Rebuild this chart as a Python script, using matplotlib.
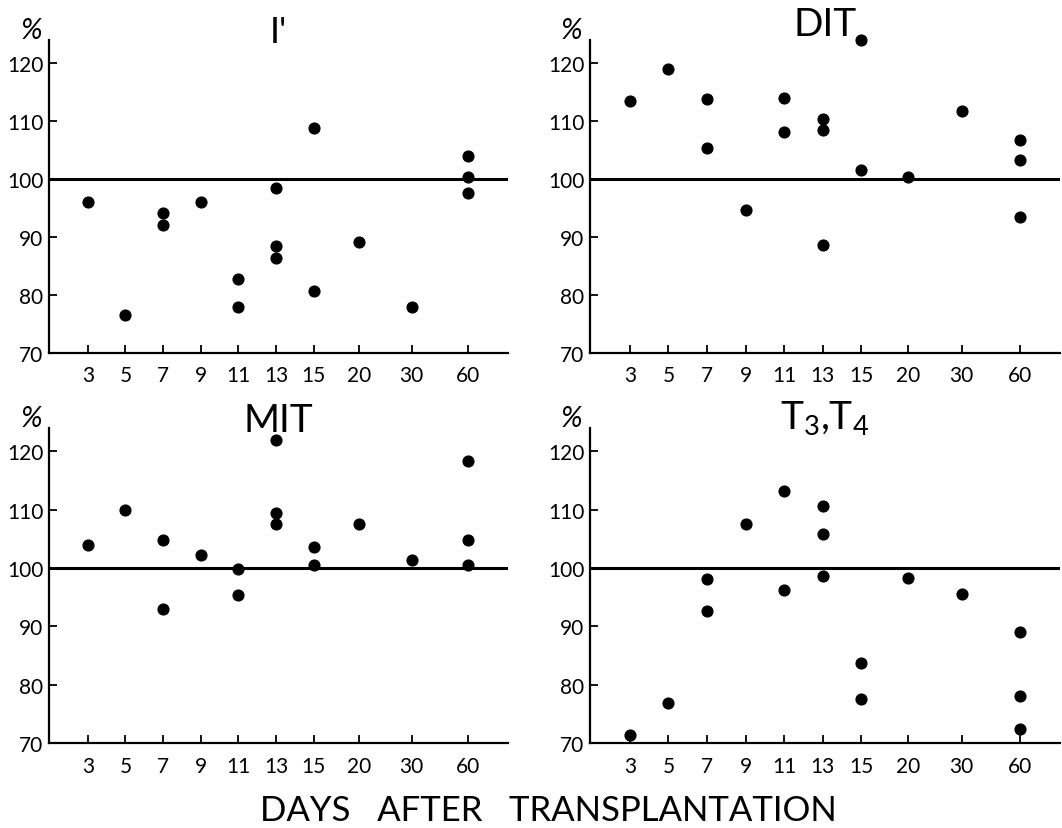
import matplotlib.pyplot as plt

plt.rcParams['font.family'] = ['Lato', 'DejaVu Sans']
plt.rcParams['mathtext.default'] = 'regular'

# x categories (days after transplantation) and their spacing on the axis
days = ["3", "5", "7", "9", "11", "13", "15", "20", "30", "60"]
day_pos = [0, 1, 2, 3, 4, 5, 6, 7.2, 8.6, 10.1]

# I'
i_days = ["3", "5", "7", "7", "9", "11", "11", "13", "13", "13", "15", "15", "20", "30", "60", "60", "60"]
i_vals = [96.0, 76.5, 94.2, 92.0, 96.1, 82.8, 78.0, 98.4, 88.4, 86.4, 108.7, 80.7, 89.2, 78.0, 103.9, 100.3, 97.5]

# DIT
dit_days = ["3", "5", "7", "7", "9", "11", "11", "13", "13", "13", "15", "15", "20", "30", "60", "60", "60"]
dit_vals = [113.4, 118.9, 113.8, 105.4, 94.6, 114.0, 108.1, 110.4, 108.4, 88.6, 123.9, 101.6, 100.3, 111.7, 106.7, 103.3, 93.4]

# MIT
mit_days = ["3", "5", "7", "7", "9", "11", "11", "13", "13", "13", "15", "15", "20", "30", "60", "60", "60"]
mit_vals = [104.0, 109.9, 104.8, 92.9, 102.3, 99.8, 95.4, 121.9, 109.5, 107.5, 103.6, 100.5, 107.5, 101.3, 118.4, 104.8, 100.6]

# T3,T4
t_days = ["3", "5", "7", "7", "9", "11", "11", "13", "13", "13", "15", "15", "20", "30", "60", "60", "60"]
t_vals = [71.3, 76.8, 98.1, 92.6, 107.6, 113.2, 96.2, 110.7, 105.9, 98.7, 83.8, 77.6, 98.3, 95.6, 89.0, 78.0, 72.4]

yticks = [70, 80, 90, 100, 110, 120]

pos = dict(zip(days, day_pos))

fig = plt.figure(figsize=(10.62, 8.29), dpi=100)

panels = [
    ("I'", i_days, i_vals, [0.0461, 0.573, 0.432, 0.378], 0.994, 26),
    ("DIT", dit_days, dit_vals, [0.5556, 0.573, 0.4426, 0.378], 1.016, 28),
    ("MIT", mit_days, mit_vals, [0.0461, 0.1025, 0.432, 0.380], 0.99, 28),
    ("T$_3$,T$_4$", t_days, t_vals, [0.5556, 0.1025, 0.4426, 0.380], 1.0, 28),
]

for title, dd, vv, rect, ty, fs in panels:
    ax = fig.add_axes(rect)
    ax.axhline(100, color='black', lw=2.2, zorder=1)
    ax.scatter([pos[d] for d in dd], vv, s=60, color='black', zorder=3, clip_on=False)
    ax.set_xlim(-1.03, 11.15)
    ax.set_ylim(70, 124)
    ax.set_xticks(day_pos)
    ax.set_xticklabels(days)
    ax.set_yticks(yticks)
    ax.tick_params(direction='in', length=6, width=1.3, labelsize=15, colors='black')
    ax.tick_params(axis='x', pad=9)
    ax.tick_params(axis='y', pad=4)
    for s in ['top', 'right']:
        ax.spines[s].set_visible(False)
    for s in ['left', 'bottom']:
        ax.spines[s].set_linewidth(1.6)
    ax.text(0.5, ty, title, transform=ax.transAxes, ha='center', va='baseline',
            fontsize=fs)
    ax.text(-0.039, 0.99, "%", transform=ax.transAxes, ha='center', va='bottom',
            fontsize=21, style='italic')

fig.text(0.516, 0.01, "DAYS   AFTER   TRANSPLANTATION", ha='center', va='baseline',
         fontsize=25)

fig.savefig("out.png", dpi=100)
